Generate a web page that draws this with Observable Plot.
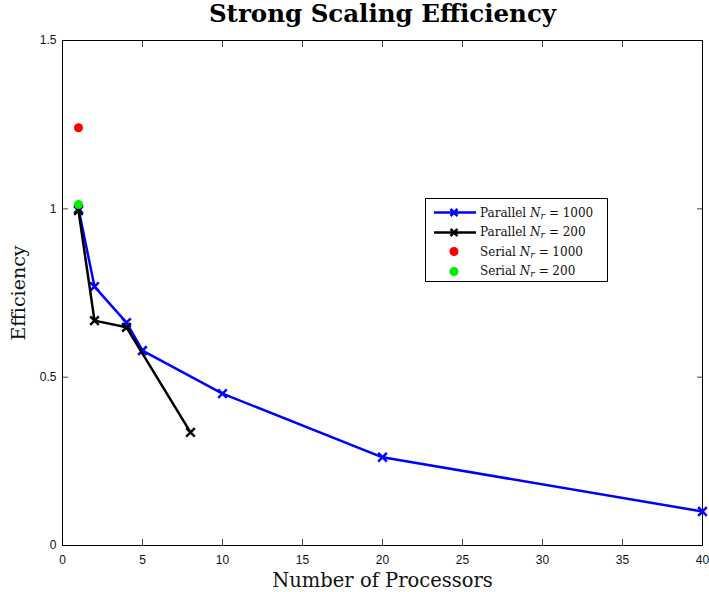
<!DOCTYPE html>
<html><head><meta charset="utf-8">
<script src="https://cdn.jsdelivr.net/npm/d3@7"></script>
<script src="https://cdn.jsdelivr.net/npm/@observablehq/plot@0.6"></script>
<style>
body{margin:0;background:#fff}
#wrap{position:relative;width:709px;height:592px}
#legend{position:absolute;left:425px;top:198px;width:183px;height:84px;border:1px solid #000;background:#fff;box-sizing:border-box;font-family:"DejaVu Serif","Liberation Serif",serif;font-size:12px;color:#111}
#legend .row{position:absolute;left:0;height:19px;display:flex;align-items:center}
#legend .row svg{width:48px;height:19px;margin-left:6px}
#legend .row span.lbl{margin-left:0px;white-space:nowrap}
#legend .row span.eq{margin:0 0.3em 0 0.35em}
#legend sub{font-size:9px;vertical-align:-2px;line-height:0}
</style>
</head><body>
<div id="wrap"></div>
<script>
// Data
const procs1000 = [1, 2, 4, 5, 10, 20, 40];
const eff1000   = [1.0, 0.769, 0.662, 0.579, 0.451, 0.262, 0.101];
const procs200  = [1, 2, 4, 8];
const eff200    = [0.995, 0.668, 0.648, 0.336];
const serialProcs = [1];
const serialEff1000 = [1.241];
const serialEff200  = [1.013];
const xTicks = [0, 5, 10, 15, 20, 25, 30, 35, 40];
const yTicks = [0, 0.5, 1, 1.5];
const seriesNames = ["Parallel N_r = 1000", "Parallel N_r = 200", "Serial N_r = 1000", "Serial N_r = 200"];
const seriesColors = ["#0000ff", "#000000", "#ff0000", "#00ee00"];
const titleText = "Strong Scaling Efficiency";
const xLabel = "Number of Processors";
const yLabel = "Efficiency";

const par1000 = procs1000.map((p, i) => ({p, e: eff1000[i]}));
const par200 = procs200.map((p, i) => ({p, e: eff200[i]}));
const ser1000 = serialProcs.map((p, i) => ({p, e: serialEff1000[i]}));
const ser200 = serialProcs.map((p, i) => ({p, e: serialEff200[i]}));

const serif = "'DejaVu Serif','Liberation Serif',serif";

const chart = Plot.plot({
  width: 709,
  height: 592,
  marginLeft: 62,
  marginRight: 7,
  marginTop: 40,
  marginBottom: 47,
  style: {fontFamily: "'Liberation Sans', Arial, sans-serif", fontSize: "12px", color: "#111", background: "#fff"},
  x: {domain: [0, 40]},
  y: {domain: [0, 1.5]},
  marks: [
    Plot.axisX({anchor: "bottom", ticks: xTicks, tickSize: -6, tickPadding: 16, tickFormat: d => String(d), label: null, stroke: "#444"}),
    Plot.axisX({anchor: "top", ticks: xTicks, tickSize: -6, tickFormat: () => "", label: null, stroke: "#444"}),
    Plot.axisY({anchor: "left", ticks: yTicks, tickSize: -6, tickPadding: 12, tickFormat: d => String(d), label: null, stroke: "#444"}),
    Plot.axisY({anchor: "right", ticks: yTicks, tickSize: -6, tickFormat: () => "", label: null, stroke: "#444"}),
    Plot.frame({stroke: "#000", strokeWidth: 1}),
    Plot.line(par1000, {x: "p", y: "e", stroke: seriesColors[0], strokeWidth: 2.5}),
    Plot.dot(par1000, {x: "p", y: "e", symbol: "times", stroke: seriesColors[0], strokeWidth: 2.5, r: 4}),
    Plot.line(par200, {x: "p", y: "e", stroke: seriesColors[1], strokeWidth: 2.5}),
    Plot.dot(par200, {x: "p", y: "e", symbol: "times", stroke: seriesColors[1], strokeWidth: 2.5, r: 4}),
    Plot.dot(ser1000, {x: "p", y: "e", fill: seriesColors[2], r: 4.5}),
    Plot.dot(ser200, {x: "p", y: "e", fill: seriesColors[3], r: 4.5}),
    Plot.text([titleText], {text: d => d, frameAnchor: "top", lineAnchor: "top", dy: -36, fontFamily: serif, fontWeight: "bold", fontSize: 24.5, fill: "#000"}),
    Plot.text([xLabel], {text: d => d, frameAnchor: "bottom", lineAnchor: "bottom", dy: 41, fontFamily: serif, fontSize: 19.5, fill: "#111"}),
    Plot.text([yLabel], {text: d => d, frameAnchor: "left", textAnchor: "middle", lineAnchor: "middle", dx: -44, rotate: -90, fontFamily: serif, fontSize: 19, fill: "#111"})
  ]
});
const wrap = document.getElementById("wrap");
wrap.appendChild(chart);

// Legend
const legend = document.createElement("div");
legend.id = "legend";
seriesNames.forEach((name, i) => {
  const row = document.createElement("div");
  row.className = "row";
  row.style.top = (4 + i * 19.5) + "px";
  const isLine = i < 2;
  const c = seriesColors[i];
  const sw = isLine
    ? `<svg viewBox="0 0 48 19"><line x1="2" y1="9.5" x2="44" y2="9.5" stroke="${c}" stroke-width="2.5"/><path d="M18.5,6L25.5,13M25.5,6L18.5,13" stroke="${c}" stroke-width="2.5"/></svg>`
    : `<svg viewBox="0 0 48 19"><circle cx="22" cy="9.5" r="4.5" fill="${c}"/></svg>`;
  const parts = name.split("N_r");
  const rest = parts[1].replace("=", "").trim();
  row.innerHTML = sw + `<span class="lbl">${parts[0]}<i>N</i><sub><i>r</i></sub><span class="eq">=</span>${rest}</span>`;
  legend.appendChild(row);
});
wrap.appendChild(legend);
</script>
</body></html>
